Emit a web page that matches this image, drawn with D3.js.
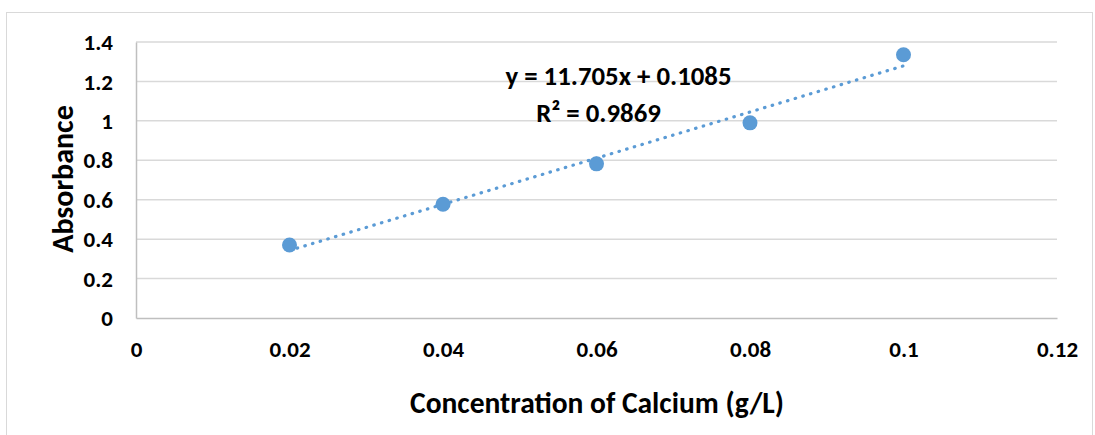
<!DOCTYPE html>
<html>
<head>
<meta charset="utf-8">
<script src="https://cdn.jsdelivr.net/npm/d3@7"></script>
<style>
  html, body { margin: 0; padding: 0; background: #fff; }
  svg text { font-family: Carlito, Lato, "Open Sans", sans-serif; font-weight: bold; fill: #000; }
</style>
</head>
<body>
<svg id="chart" width="1095" height="435"></svg>
<script>
// Calcium calibration: concentration (g/L) vs absorbance
const concentration = [0.02, 0.04, 0.06, 0.08, 0.10];
const absorbance    = [0.37, 0.577, 0.782, 0.99, 1.335];

// Linear trendline as reported on the chart
const trendSlope = 11.705;
const trendIntercept = 0.1085;
const equationLabel = "y = 11.705x + 0.1085";
const rSquaredLabel = "R² = 0.9869";

const xTicks = [0, 0.02, 0.04, 0.06, 0.08, 0.10, 0.12];
const xTickLabels = ["0", "0.02", "0.04", "0.06", "0.08", "0.1", "0.12"];
const yTicks = [0, 0.2, 0.4, 0.6, 0.8, 1.0, 1.2, 1.4];
const yTickLabels = ["0", "0.2", "0.4", "0.6", "0.8", "1", "1.2", "1.4"];

const xTitle = "Concentration of Calcium (g/L)";
const yTitle = "Absorbance";

const svg = d3.select("#chart");
const blue = "#5B9BD5";

const plot = { left: 136, right: 1057, top: 42, bottom: 318 };

const x = d3.scaleLinear().domain([0, 0.12]).range([plot.left, plot.right]);
const y = d3.scaleLinear().domain([0, 1.4]).range([plot.bottom, plot.top]);

// outer chart frame
svg.append("rect")
  .attr("x", 6.5).attr("y", 12.5)
  .attr("width", 1086).attr("height", 440)
  .attr("fill", "#fff").attr("stroke", "#D9D9D9").attr("stroke-width", 1);

// horizontal gridlines
svg.append("g")
  .selectAll("line")
  .data(yTicks.filter(v => v > 0))
  .join("line")
  .attr("x1", plot.left).attr("x2", plot.right)
  .attr("y1", d => y(d)).attr("y2", d => y(d))
  .attr("stroke", "#D9D9D9").attr("stroke-width", 1.5);

// y axis
const yAxis = d3.axisLeft(y)
  .tickValues(yTicks)
  .tickFormat((d, i) => yTickLabels[i])
  .tickSize(0).tickPadding(23);
const gy = svg.append("g").attr("transform", `translate(${plot.left},0)`).call(yAxis);
gy.select(".domain").attr("stroke", "#BFBFBF").attr("stroke-width", 1.5);
gy.selectAll("text").attr("font-size", 23).attr("dy", "0.33em");

// x axis
const xAxis = d3.axisBottom(x)
  .tickValues(xTicks)
  .tickFormat((d, i) => xTickLabels[i])
  .tickSize(0).tickPadding(21);
const gx = svg.append("g").attr("transform", `translate(0,${plot.bottom})`).call(xAxis);
gx.select(".domain").attr("stroke", "#BFBFBF").attr("stroke-width", 1.5);
gx.selectAll(".tick text").attr("font-size", 23).attr("y", 39).attr("dy", 0);

// axis titles
svg.append("text")
  .attr("transform", `translate(62,${(plot.top + plot.bottom) / 2 - 1}) rotate(-90)`)
  .attr("text-anchor", "middle").attr("dy", "0.35em")
  .attr("font-size", 30)
  .text(yTitle);

svg.append("text")
  .attr("x", 597).attr("y", 403)
  .attr("text-anchor", "middle").attr("dy", "0.35em")
  .attr("font-size", 29.5)
  .text(xTitle);

// dotted linear trendline
const trendX = d3.extent(concentration);
svg.append("line")
  .attr("x1", x(trendX[0])).attr("y1", y(trendSlope * trendX[0] + trendIntercept))
  .attr("x2", x(trendX[1])).attr("y2", y(trendSlope * trendX[1] + trendIntercept))
  .attr("stroke", blue).attr("stroke-width", 3.2)
  .attr("stroke-linecap", "round")
  .attr("stroke-dasharray", "0.5 7.5");

// data markers
svg.append("g")
  .selectAll("circle")
  .data(concentration.map((c, i) => [c, absorbance[i]]))
  .join("circle")
  .attr("cx", d => x(d[0])).attr("cy", d => y(d[1]))
  .attr("r", 7.5)
  .attr("fill", blue);

// trendline equation and R²
svg.append("text")
  .attr("x", 618.5).attr("y", 76)
  .attr("text-anchor", "middle").attr("dy", "0.35em")
  .attr("font-size", 26.8)
  .text(equationLabel);
svg.append("text")
  .attr("x", 598.5).attr("y", 113)
  .attr("text-anchor", "middle").attr("dy", "0.35em")
  .attr("font-size", 26.8)
  .text(rSquaredLabel);
</script>
</body>
</html>
